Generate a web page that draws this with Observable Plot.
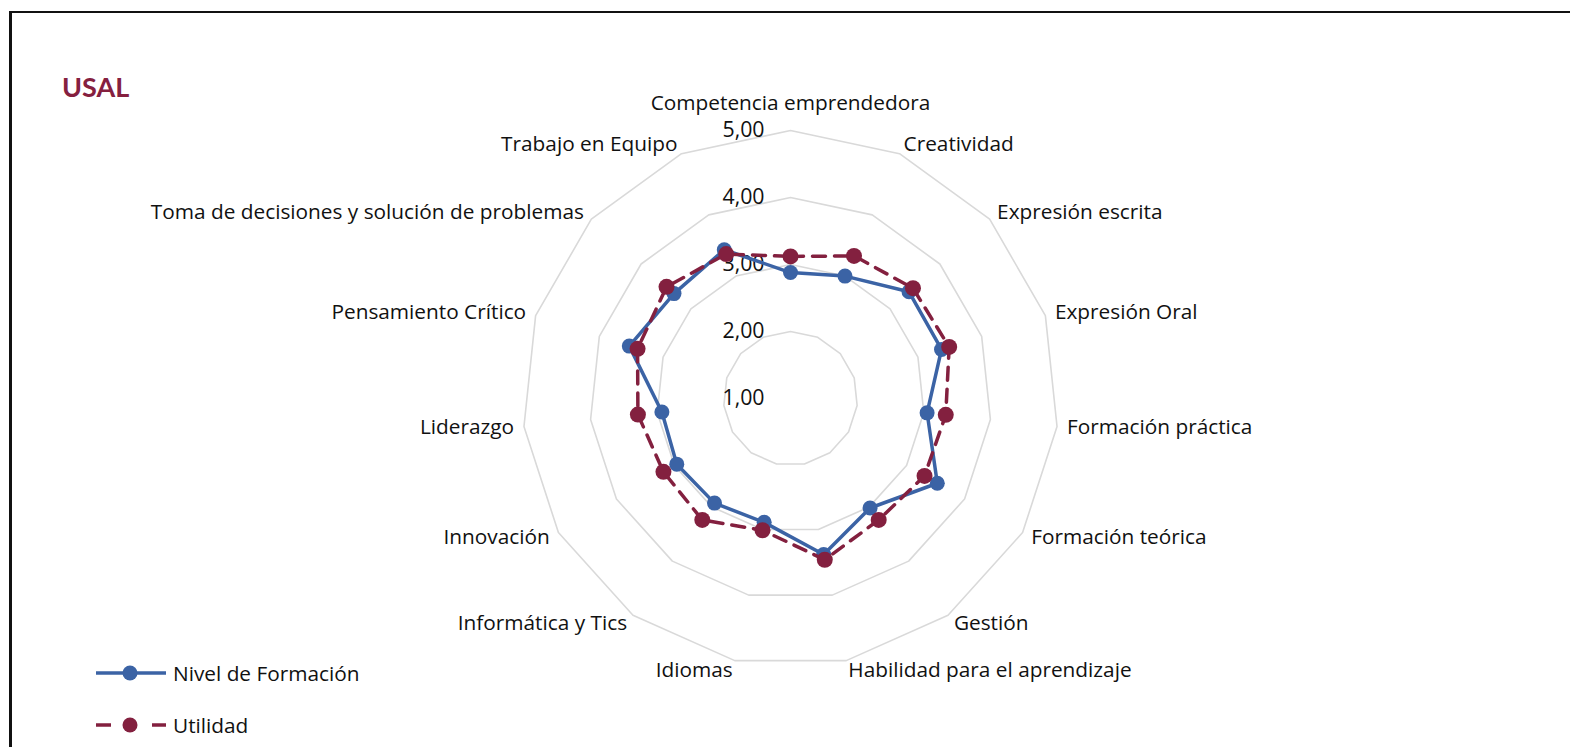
<!DOCTYPE html>
<html>
<head>
<meta charset="utf-8">
<script src="https://cdn.jsdelivr.net/npm/d3@7"></script>
<script src="https://cdn.jsdelivr.net/npm/@observablehq/plot@0.6"></script>
<style>
  html, body { margin: 0; padding: 0; background: #fff; }
  #wrap { position: relative; width: 1570px; height: 747px; overflow: hidden; font-family: "Open Sans", sans-serif; }
  #frame { position: absolute; left: 9px; top: 11px; width: 1600px; height: 800px; border-top: 2px solid #111; border-left: 3px solid #111; }
  #title { position: absolute; left: 62px; top: 70px; font-weight: bold; color: #85203f; line-height: 34px; font-family: Lato, sans-serif; font-size: 27px; }
  #chart { position: absolute; left: 0; top: 0; }
  .leg { position: absolute; left: 96px; height: 24px; display: flex; align-items: center; font-size: 20.8px; color: #111; }
  .leg svg { margin-right: 7px; }
</style>
</head>
<body>
<div id="wrap">
  <div id="frame"></div>
  <div id="chart"></div>
  <div id="title">USAL</div>
  <div id="legend"></div>
</div>
<script>
const categories = [
  "Competencia emprendedora", "Creatividad", "Expresión escrita", "Expresión Oral",
  "Formación práctica", "Formación teórica", "Gestión", "Habilidad para el aprendizaje",
  "Idiomas", "Informática y Tics", "Innovación", "Liderazgo", "Pensamiento Crítico",
  "Toma de decisiones y solución de problemas", "Trabajo en Equipo"
];
const nivelFormacion = [2.88, 3.00, 3.38, 3.37, 3.05, 3.53, 3.02, 3.38, 2.89, 2.93, 2.96, 2.93, 3.53, 3.34, 3.43];
const utilidad = [3.12, 3.33, 3.46, 3.49, 3.33, 3.31, 3.24, 3.46, 3.01, 3.24, 3.19, 3.29, 3.40, 3.49, 3.36];
const seriesNames = ["Nivel de Formación", "Utilidad"];
const ringValues = [1, 2, 3, 4, 5];
const ringLabels = ["1,00", "2,00", "3,00", "4,00", "5,00"];

const W = 1570, H = 747;
const CX = 790, CY = 398, UNIT = 67;   // layout: center and pixels per unit
const vMin = 1, vMax = 5;
const n = categories.length;
const colors = {"Nivel de Formación": "#3b63a5", "Utilidad": "#83203f"};
const FONT = "'Open Sans', sans-serif";
const FS = 20.8;

const ang = i => 2 * Math.PI * i / n;
const px = (i, v) => (v - vMin) * Math.sin(ang(i));
const py = (i, v) => (v - vMin) * Math.cos(ang(i));

// grid rings
const rings = [];
for (const rv of ringValues.filter(v => v > vMin))
  for (let i = 0; i < n; i++) rings.push({ring: rv, x: px(i, rv), y: py(i, rv)});

const series = [
  {name: seriesNames[0], values: nivelFormacion},
  {name: seriesNames[1], values: utilidad}
];
const pts = s => s.values.map((v, i) => ({name: s.name, x: px(i, v), y: py(i, v)}));
const blue = pts(series[0]);
const red = pts(series[1]);

const labelR = vMax + 10 / UNIT;
const catData = categories.map((c, i) => ({c, i, x: px(i, labelR), y: py(i, labelR)}));
const ringLab = ringValues.map((v, k) => ({t: ringLabels[k], x: 0, y: v - vMin}));

const plot = Plot.plot({
  width: W, height: H,
  marginLeft: 0, marginRight: 0, marginTop: 0, marginBottom: 0,
  style: {background: "transparent", fontFamily: FONT, overflow: "visible"},
  x: {domain: [-CX / UNIT, (W - CX) / UNIT], range: [0, W], axis: null},
  y: {domain: [-(H - CY) / UNIT, CY / UNIT], range: [H, 0], axis: null},
  marks: [
    Plot.line(rings, {x: "x", y: "y", z: "ring", curve: "linear-closed", stroke: "#d9d9d9", strokeWidth: 1.6}),
    Plot.text(ringLab, {x: "x", y: "y", text: "t", textAnchor: "end", dx: -26, fontSize: 21.3, fill: "#111"}),
    Plot.text(catData.filter(d => d.i === 0), {x: () => 0, y: () => vMax - vMin, text: "c", dy: -27, fontSize: FS, fill: "#111"}),
    Plot.text(catData.filter(d => d.i > 0 && d.i <= 7), {x: "x", y: "y", text: "c", textAnchor: "start", fontSize: FS, fill: "#111"}),
    Plot.text(catData.filter(d => d.i > 7), {x: "x", y: "y", text: "c", textAnchor: "end", fontSize: FS, fill: "#111"}),
    Plot.line(blue, {x: "x", y: "y", curve: "linear-closed", stroke: colors[seriesNames[0]], strokeWidth: 3.5}),
    Plot.dot(blue, {x: "x", y: "y", r: 7.5, fill: colors[seriesNames[0]]}),
    Plot.line(red, {x: "x", y: "y", curve: "linear-closed", stroke: colors[seriesNames[1]], strokeWidth: 3.5, strokeDasharray: "13,9"}),
    Plot.dot(red, {x: "x", y: "y", r: 8, fill: colors[seriesNames[1]]})
  ]
});
document.getElementById("chart").appendChild(plot);

// legend
const leg = document.getElementById("legend");
const tops = [661, 713];
seriesNames.forEach((name, k) => {
  const div = document.createElement("div");
  div.className = "leg";
  div.style.top = tops[k] + "px";
  const c = colors[name];
  const line = k === 0
    ? `<line x1="0" y1="12" x2="70" y2="12" stroke="${c}" stroke-width="3.5"/>`
    : `<line x1="0" y1="12" x2="15" y2="12" stroke="${c}" stroke-width="3.5"/><line x1="56" y1="12" x2="70" y2="12" stroke="${c}" stroke-width="3.5"/>`;
  div.innerHTML = `<svg width="70" height="24">${line}<circle cx="34" cy="12" r="7.5" fill="${c}"/></svg><span>${name}</span>`;
  leg.appendChild(div);
});
</script>
</body>
</html>
